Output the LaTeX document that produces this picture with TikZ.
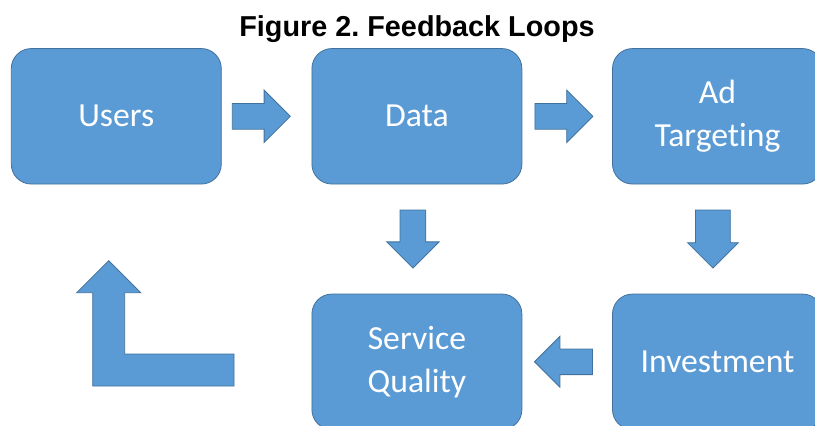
\documentclass[tikz,border=0pt]{standalone}
\usepackage{fontspec}
\setmainfont{Carlito}[Ligatures = NoCommon]
\newfontfamily\titlefont{Liberation Sans}
\usetikzlibrary{shapes.arrows,positioning}
\definecolor{boxblue}{HTML}{5B9BD5}
\definecolor{boxedge}{HTML}{41719C}
\frenchspacing
\begin{document}
\begin{tikzpicture}
            [x = 1pt, y = -1pt,
             box/.style = {draw = boxedge, fill = boxblue, line width = 0.8pt, rounded corners = 20pt,
                           minimum width = 210pt, minimum height = 135.5pt, outer sep = 0pt,
                           text = white, align = center, font = \fontsize{33.7}{43}\selectfont},
             blockarrow/.style = {single arrow, draw = boxedge, fill = boxblue, line width = 0.8pt,
                                  inner sep = 12.5pt, outer sep = 0pt, single arrow head indent = 0pt,
                                  single arrow head extend = 13.3pt, minimum height = 58pt, anchor = tail}]
            \useasboundingbox (0,0) rectangle (815,426);
            \node[anchor = base] (title) at (417,36) {\titlefont\bfseries\fontsize{28.8}{34}\selectfont Figure 2. Feedback Loops};
            \node[box] (users) at (116.3,116.3) {Users};
            \node[box] (data) [right = 90.6pt of users] {Data};
            \node[box] (ad) [right = 90.6pt of data] {Ad\\Targeting};
            \node[box] (service) [below = 110pt of data] {Service\\Quality};
            \node[box] (invest) [below = 110pt of ad] {Investment};
            % arrows between the boxes
            \node[blockarrow] (a1) at ([xshift = 11pt]users.east) {};
            \node[blockarrow] (a2) at ([xshift = 13pt]data.east) {};
            \node[blockarrow, shape border rotate = 270] (a3) at ([shift = {(-4,26)}]data.south) {};
            \node[blockarrow, shape border rotate = 270, inner sep = 17pt,
                  single arrow head extend = 8pt] (a4) at ([shift = {(-4.6,26)}]ad.south) {};
            \node[blockarrow, shape border rotate = 180, inner sep = 12.4pt,
                  single arrow head extend = 12.6pt] (a5) at ([xshift = -20pt]invest.west) {};
            % bent arrow back to the users
            \draw[draw = boxedge, fill = boxblue, line width = 0.8pt]
                (108.7,260.7) -- (140.7,292.7) -- (124.7,292.7) -- (124.7,354) -- (234,354)
                -- (234,386) -- (92.7,386) -- (92.7,292.7) -- (76.7,292.7) -- cycle;
        \end{tikzpicture}
\end{document}
